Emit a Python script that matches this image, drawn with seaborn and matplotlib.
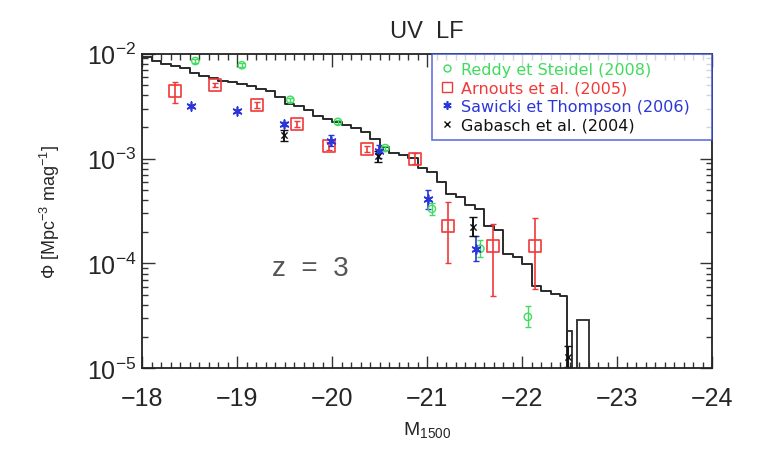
import numpy as np
import matplotlib
matplotlib.use("Agg")
import matplotlib.pyplot as plt
from matplotlib.lines import Line2D
from matplotlib.ticker import MultipleLocator, LogLocator, NullFormatter
import seaborn as sns

# ---------------- data ----------------
# model UV LF histogram: bin centres (M1500) and log10(Phi); last bin is empty
hist_M = [-18.05, -18.15, -18.25, -18.35, -18.45, -18.55, -18.65, -18.75, -18.85, -18.95,
          -19.05, -19.15, -19.25, -19.35, -19.45, -19.55, -19.65, -19.75, -19.85, -19.95,
          -20.05, -20.15, -20.25, -20.35, -20.45, -20.55, -20.65, -20.75, -20.85, -20.95,
          -21.05, -21.15, -21.25, -21.35, -21.45, -21.55, -21.65, -21.75, -21.85, -21.95,
          -22.05, -22.15, -22.25, -22.35, -22.45, -22.50]
hist_logphi = [-2.03, -2.07, -2.10, -2.12, -2.14, -2.18, -2.21, -2.23, -2.26, -2.27,
               -2.29, -2.31, -2.34, -2.36, -2.41, -2.48, -2.50, -2.54, -2.59, -2.62,
               -2.65, -2.68, -2.71, -2.75, -2.81, -2.89, -2.95, -2.97, -2.99, -3.09,
               -3.13, -3.22, -3.34, -3.37, -3.44, -3.48, -3.64, -3.68, -3.91, -3.94,
               -4.01, -4.22, -4.26, -4.29, -4.31, -np.inf]
hist_edges = [-22.52, -22.47, -22.4, -22.3, -22.2, -22.1, -22.0, -21.9, -21.8, -21.7, -21.6,
              -21.5, -21.4, -21.3, -21.2, -21.1, -21.0, -20.9, -20.8, -20.7, -20.6, -20.5,
              -20.4, -20.3, -20.2, -20.1, -20.0, -19.9, -19.8, -19.7, -19.6, -19.5,
              -19.4, -19.3, -19.2, -19.1, -19.0, -18.9, -18.8, -18.7, -18.6, -18.5,
              -18.4, -18.3, -18.2, -18.1, -18.0]
# isolated bright-end bins
tail_M = [-22.64, -22.55, -22.495]
tail_logphi = [-4.54, -np.inf, -4.64]
tail_edges = [-22.70, -22.58, -22.52, -22.47]

# Reddy & Steidel (2008)
reddy_M = [-18.56, -19.05, -19.56, -20.06, -20.56, -21.05, -21.56, -22.06]
reddy_logphi = [-2.07, -2.11, -2.44, -2.65, -2.90, -3.48, -3.86, -4.51]
reddy_err = [0.02, 0.02, 0.02, 0.02, 0.02, 0.06, 0.08, 0.10]

# Arnouts et al. (2005)
arn_M = [-18.35, -18.77, -19.21, -19.63, -19.97, -20.37, -20.87, -21.22, -21.69, -22.14]
arn_logphi = [-2.36, -2.30, -2.49, -2.67, -2.88, -2.91, -3.00, -3.64, -3.83, -3.83]
arn_err_lo = [0.11, 0.02, 0.03, 0.03, 0.04, 0.03, 0.05, 0.36, 0.48, 0.41]
arn_err_hi = [0.09, 0.02, 0.03, 0.03, 0.04, 0.03, 0.05, 0.23, 0.21, 0.26]

# Sawicki & Thompson (2006)
saw_M = [-18.51, -19.00, -19.49, -19.99, -20.49, -21.01, -21.51]
saw_logphi = [-2.50, -2.55, -2.67, -2.83, -2.93, -3.39, -3.86]
saw_err = [0.01, 0.01, 0.02, 0.05, 0.06, 0.09, 0.12]

# Gabasch et al. (2004)
gab_M = [-19.49, -20.48, -21.48, -22.48]
gab_logphi = [-2.78, -2.98, -3.65, -4.89]
gab_err = [0.05, 0.05, 0.09, 0.10]

labels = ["Reddy et Steidel (2008)", "Arnouts et al. (2005)",
          "Sawicki et Thompson (2006)", "Gabasch et al. (2004)"]
c_green, c_red, c_blue, c_black = "#3fdc5e", "#f03a3a", "#2a36d8", "#111111"

# ---------------- figure ----------------
sns.set_style("ticks")
plt.rcParams["font.family"] = ["Liberation Sans", "DejaVu Sans"]
plt.rcParams["mathtext.fontset"] = "custom"
plt.rcParams["mathtext.rm"] = "Liberation Sans"
plt.rcParams["mathtext.it"] = "Liberation Sans"

fig, ax = plt.subplots(figsize=(7.6, 4.52), dpi=100)
fig.subplots_adjust(left=0.187, right=0.937, top=0.879, bottom=0.183)

sns.histplot(x=hist_M, weights=10 ** np.array(hist_logphi), bins=hist_edges,
             element="step", fill=False, color="#2a2a2a", linewidth=1.4, ax=ax)
sns.histplot(x=tail_M, weights=10 ** np.array(tail_logphi), bins=tail_edges, element="bars",
             fill=False, color="#2a2a2a", linewidth=1.3, ax=ax)

def logerr(logv, lo, hi):
    logv = np.array(logv); lo = np.array(lo); hi = np.array(hi)
    v = 10 ** logv
    return v, np.vstack([v - 10 ** (logv - lo), 10 ** (logv + hi) - v])

v, e = logerr(reddy_logphi, reddy_err, reddy_err)
ax.errorbar(reddy_M, v, yerr=e, fmt="none", ecolor=c_green, elinewidth=1, capsize=2.5)
sns.scatterplot(x=reddy_M, y=v, marker="o", s=28, color=c_green, facecolors="none",
                edgecolor=c_green, linewidth=1.0, ax=ax, zorder=4)

v, e = logerr(arn_logphi, arn_err_lo, arn_err_hi)
ax.errorbar(arn_M, v, yerr=e, fmt="none", ecolor=c_red, elinewidth=1.2, capsize=2.5)
sns.scatterplot(x=arn_M, y=v, marker="s", s=75, color=c_red, facecolors="none",
                edgecolor=c_red, linewidth=1.2, ax=ax, zorder=4)

v, e = logerr(saw_logphi, saw_err, saw_err)
ax.errorbar(saw_M, v, yerr=e, fmt="none", ecolor=c_blue, elinewidth=1.2, capsize=2.5)
sns.scatterplot(x=saw_M, y=v, marker=(6, 2, 0), s=40, color=c_blue,
                edgecolor=c_blue, linewidth=1.2, ax=ax, zorder=4)

v, e = logerr(gab_logphi, gab_err, gab_err)
ax.errorbar(gab_M, v, yerr=e, fmt="none", ecolor=c_black, elinewidth=1.4, capsize=3)
sns.scatterplot(x=gab_M, y=v, marker="x", s=20, color=c_black,
                edgecolor=c_black, linewidth=1.0, ax=ax, zorder=4)

ax.set_yscale("log")
ax.set_xlim(-18, -24)
ax.set_ylim(1e-5, 1e-2)

ax.xaxis.set_major_locator(MultipleLocator(1))
ax.xaxis.set_minor_locator(MultipleLocator(0.1))
ax.yaxis.set_major_locator(LogLocator(base=10))
ax.yaxis.set_minor_locator(LogLocator(base=10, subs=np.arange(2, 10)))
ax.yaxis.set_minor_formatter(NullFormatter())
ax.tick_params(which="both", direction="in", top=True, right=True, width=1.0, color="#333333")
ax.tick_params(which="major", length=9, labelsize=18)
ax.tick_params(which="minor", length=4)
ax.tick_params(axis="x", which="major", pad=13)
ax.tick_params(axis="y", which="major", pad=4)
for s in ax.spines.values():
    s.set_linewidth(1.3)
    s.set_color("#222222")

ax.set_title("UV  LF", fontsize=17, pad=12)
ax.set_xlabel("M$_{1500}$", fontsize=14, labelpad=6)
ax.set_ylabel("Φ [Mpc$^{-3}$ mag$^{-1}$]", fontsize=13, labelpad=18)

ax.text(-19.77, 10 ** -4.04, "z  =  3", fontsize=20, color="#555555",
        ha="center", va="center")

handles = [
    Line2D([], [], ls="none", marker="o", ms=5, mfc="none", mec=c_green),
    Line2D([], [], ls="none", marker="s", ms=7, mfc="none", mec=c_red),
    Line2D([], [], ls="none", marker=(6, 2, 0), ms=6, mec=c_blue, mew=1.2),
    Line2D([], [], ls="none", marker="x", ms=5, mec=c_black),
]
leg = ax.legend(handles, labels, loc="upper left", bbox_to_anchor=(0.509, 0.0, 0.491, 1.0),
                bbox_transform=ax.transAxes, mode="expand", borderaxespad=0,
                fancybox=False, frameon=True, handlelength=0.8,
                prop={"family": "DejaVu Sans", "size": 11.5},
                handletextpad=0.5, labelspacing=0.22, borderpad=0.5)
leg.get_frame().set_edgecolor("#3a4fd8")
leg.get_frame().set_linewidth(1.2)
for t, c in zip(leg.get_texts(), [c_green, c_red, c_blue, c_black]):
    t.set_color(c)

fig.savefig("out.png", dpi=100, facecolor="white")
